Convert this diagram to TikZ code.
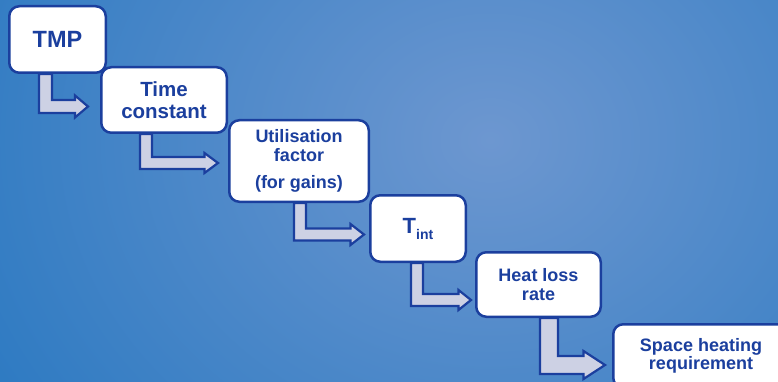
\documentclass[tikz,border=0pt]{standalone}
\usepackage{fontspec}
\setmainfont{Liberation Sans}
\definecolor{bgout}{HTML}{1770BD}
\definecolor{bgin}{HTML}{6D97D0}
\definecolor{dblue}{HTML}{1B3F9E}
\definecolor{afill}{HTML}{CDD1E4}
\pgfdeclarelayer{back}
\pgfdeclarelayer{mid}
\pgfsetlayers{back,mid,main}
\newcommand\larrow[8]{%
 \coordinate (tq) at ([xshift=-#8]#2.west);
 \coordinate (tip) at (tq |- 0,#5);
 \coordinate (hb) at ([xshift=-#6]tip);
 \pgfmathsetmacro\xr{#3+#4}%
 \pgfmathsetmacro\yb{#5+#4/2}%
 \pgfmathsetmacro\yt{#5-#4/2}%
 \pgfmathsetmacro\yhb{#5+#7}%
 \pgfmathsetmacro\yht{#5-#7}%
 \begin{pgfonlayer}{mid}
 \draw[arr] (#3,0 |- #1.south) -- (#3,\yb) -- (hb |- 0,\yb) -- (hb |- 0,\yhb) -- (tip) -- (hb |- 0,\yht) -- (hb |- 0,\yt) -- (\xr,\yt) -- (\xr,0 |- #1.south) -- cycle;
 \end{pgfonlayer}
}
\begin{document}
\begin{tikzpicture}[x=1pt,y=-1pt,
 box/.style={draw=dblue, line width=2.5pt, fill=white, rounded corners=10pt, align=center, text=dblue, inner sep=0pt},
 arr/.style={draw=dblue, line width=2.2pt, fill=afill, line join=miter}]
\useasboundingbox (0,0) rectangle (778,382);
\begin{pgfonlayer}{back}
\begin{scope}
\clip (0,0) rectangle (778,382);
\fill[bgout] (0,0) rectangle (778,382);
\shade[inner color=bgin, outer color=bgout] (490,140) ellipse [x radius=780, y radius=660];
\end{scope}
\end{pgfonlayer}
\begin{scope}
\clip (0,0) rectangle (778,382);
\node[box, minimum width=96.5, minimum height=66.5, font=\bfseries\fontsize{23.5}{26}\selectfont] (tmp) at (57.5,39.5) {TMP};
\node[box, minimum width=125.5, minimum height=65.5, font=\bfseries\fontsize{20.5}{22}\selectfont] (tc) at (164,100) {Time\\constant};
\node[box, minimum width=139.5, minimum height=81.5, font=\bfseries\fontsize{18}{19}\selectfont] (uf) at (299,161) {Utilisation\\factor\\[8pt](for gains)};
\node[box, minimum width=95.5, minimum height=66.5, font=\bfseries\fontsize{22}{24}\selectfont] (ti) at (418,228.5) {T\raisebox{-6pt}{\fontsize{14}{14}\selectfont int}};
\node[box, minimum width=124.5, minimum height=64.5, font=\bfseries\fontsize{18}{19}\selectfont] (hl) at (538.5,284.5) {Heat loss\\rate};
\node[box, minimum width=175.5, minimum height=63.5, font=\bfseries\fontsize{18}{17.5}\selectfont] (sh) at (701,356) {Space heating\\requirement};
\end{scope}
\larrow{tmp}{tc}{39}{13}{106.5}{13}{11}{12}
\larrow{tc}{uf}{140}{12}{163}{13.5}{10}{10}
\larrow{uf}{ti}{294}{12}{234.5}{13.5}{10.5}{5}
\larrow{ti}{hl}{411}{12}{300}{12.5}{10}{4}
\larrow{hl}{sh}{540}{18}{365}{21.5}{14}{7}
\end{tikzpicture}
\end{document}
